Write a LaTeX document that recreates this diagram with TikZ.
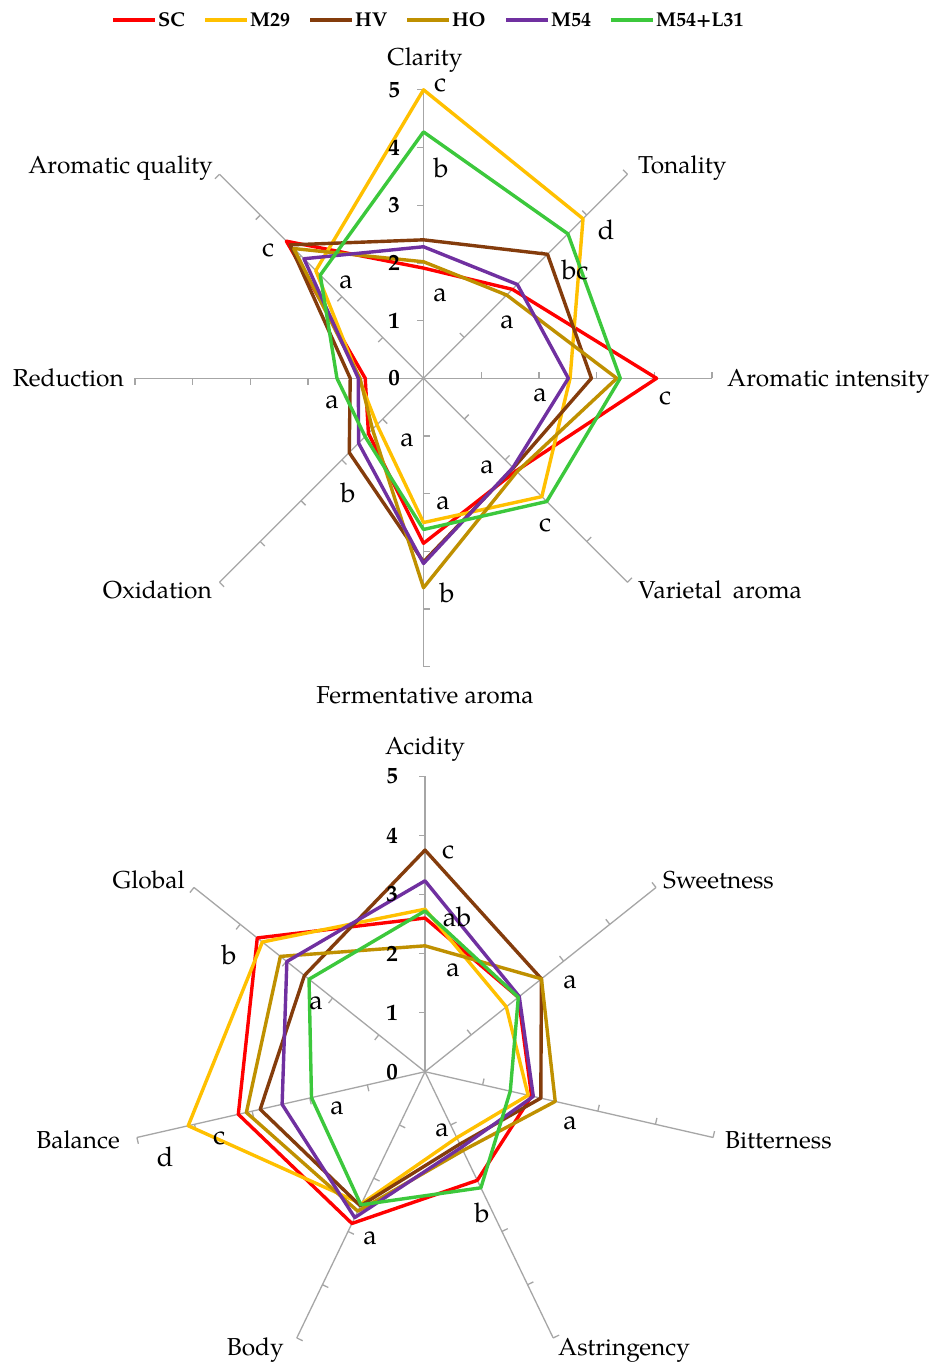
\documentclass[tikz,border=0pt]{standalone}
\usepackage{fontspec}
\setmainfont{TeX Gyre Pagella}[Numbers=Lining]
\definecolor{cSC}{HTML}{FF0000}
\definecolor{cMA}{HTML}{FFC000}
\definecolor{cHV}{HTML}{843C0C}
\definecolor{cHO}{HTML}{BF9000}
\definecolor{cMB}{HTML}{7030A0}
\definecolor{cMC}{HTML}{3CC83C}
\definecolor{axgray}{HTML}{A6A6A6}
\begin{document}
\begin{tikzpicture}[x=1pt,y=-1pt,
  axisline/.style={draw=axgray,line width=1.3pt},
  series/.style={line width=3.4pt,line join=round},
  axlabel/.style={font=\fontsize{24.5}{28}\selectfont,inner sep=0pt},
  sig/.style={font=\fontsize{27}{30}\selectfont,inner sep=0pt},
  ticklab/.style={font=\bfseries\fontsize{23}{25}\selectfont,inner sep=0pt},
  legtext/.style={font=\fontsize{20}{22}\selectfont\bfseries,inner sep=0pt,anchor=west},
  legline/.style={line width=4pt}]
\useasboundingbox (0,0) rectangle (936,1362);
\fill[white] (0,0) rectangle (936,1362);

% ---------- legend ----------
\draw[legline,cSC] (113,20) -- (155,20);
\node[legtext] (lSC) at (158,20) {SC};
\draw[legline,cMA] (205,20) -- (247,20);
\node[legtext] (lMA) at (250,20) {M29};
\draw[legline,cHV] (310,20) -- (352,20);
\node[legtext] (lHV) at (355,20) {HV};
\draw[legline,cHO] (407,20) -- (449,20);
\node[legtext] (lHO) at (452,20) {HO};
\draw[legline,cMB] (506,20) -- (548,20);
\node[legtext] (lMB) at (551,20) {M54};
\draw[legline,cMC] (611,20) -- (653,20);
\node[legtext] (lMC) at (656,20) {M54+L31};

% ---------- top radar ----------
\begin{scope}[shift={(423.5,378.3)},x=57.7pt,y=57.7pt]
  \foreach \a in {90,45,0,-45,-90,-135,180,135}{
    \pgfmathsetmacro\b{\a+90}
    \draw[axisline] (0,0) -- (\a:5);
    \foreach \k in {1,...,5}{\draw[axisline] (\a:\k) -- ++(\b:0.11);}
  }
  \draw[series,cSC] (90:1.91) -- (45:2.18) -- (0:4.04) -- (-45:2.27) -- (-90:2.86) -- (-135:1.35) -- (180:1.01) -- (135:3.36) -- cycle;
  \draw[series,cMA] (90:5.0) -- (45:3.91) -- (0:2.54) -- (-45:2.90) -- (-90:2.50) -- (-135:1.14) -- (180:1.12) -- (135:2.64) -- cycle;
  \draw[series,cHV] (90:2.40) -- (45:3.04) -- (0:2.91) -- (-45:2.20) -- (-90:3.18) -- (-135:1.82) -- (180:1.27) -- (135:3.27) -- cycle;
  \draw[series,cHO] (90:2.02) -- (45:2.04) -- (0:3.35) -- (-45:2.29) -- (-90:3.63) -- (-135:1.25) -- (180:1.10) -- (135:3.18) -- cycle;
  \draw[series,cMB] (90:2.28) -- (45:2.30) -- (0:2.51) -- (-45:2.19) -- (-90:3.21) -- (-135:1.59) -- (180:1.13) -- (135:2.93) -- cycle;
  \draw[series,cMC] (90:4.27) -- (45:3.54) -- (0:3.41) -- (-45:3.02) -- (-90:2.62) -- (-135:1.43) -- (180:1.50) -- (135:2.53) -- cycle;
\end{scope}

% tick numbers top
\node[ticklab] (t0) at (394,378) {0};
\node[ticklab] (t1) at (394,320.6) {1};
\node[ticklab] (t2) at (394,262.9) {2};
\node[ticklab] (t3) at (394,205.2) {3};
\node[ticklab] (t4) at (394,147.5) {4};
\node[ticklab] (t5) at (394,89.8) {5};

% axis labels top
\node[axlabel,anchor=base] (clar) at (425,66) {Clarity};
\node[axlabel,anchor=base west] (tona) at (638,173) {Tonality};
\node[axlabel,anchor=base west] (aint) at (727,386) {Aromatic intensity};
\node[axlabel,anchor=base west] (vari) at (638,598) {Varietal\hspace{5pt} aroma};
\node[axlabel,anchor=base] (ferm) at (425,703) {Fermentative aroma};
\node[axlabel,anchor=base east] (oxid) at (212,598) {Oxidation};
\node[axlabel,anchor=base east] (redu) at (124,386) {Reduction};
\node[axlabel,anchor=base east] (aqua) at (213,173) {Aromatic quality};

% significance letters top
\node[sig] (s1) at (440,85) {c};
\node[sig] (s2) at (441,168) {b};
\node[sig] (s3) at (606,230) {d};
\node[sig] (s4) at (575,270) {bc};
\node[sig] (s5) at (440,295) {a};
\node[sig] (s6) at (507,322) {a};
\node[sig] (s7) at (268,250) {c};
\node[sig] (s8) at (346,282) {a};
\node[sig] (s9) at (540,395) {a};
\node[sig] (s10) at (665,398) {c};
\node[sig] (s11) at (332,402) {a};
\node[sig] (s12) at (407,440) {a};
\node[sig] (s13) at (487,467) {a};
\node[sig] (s14) at (348,493) {b};
\node[sig] (s15) at (443,503) {a};
\node[sig] (s16) at (545,525) {c};
\node[sig] (s17) at (447,593) {b};

% ---------- bottom radar ----------
\begin{scope}[shift={(425,1071.7)},x=59.1pt,y=59.1pt]
  \foreach \a in {90,38.5714,-12.8571,-64.2857,-115.7143,-167.1429,141.4286}{
    \pgfmathsetmacro\b{\a+90}
    \draw[axisline] (0,0) -- (\a:5);
    \foreach \k in {1,...,5}{\draw[axisline] (\a:\k) -- ++(\b:0.11);}
  }
  \draw[series,cSC] (90:2.60) -- (38.5714:2.02) -- (-12.8571:1.85) -- (-64.2857:2.04) -- (-115.7143:2.85) -- (-167.1429:3.24) -- (141.4286:3.63) -- cycle;
  \draw[series,cMA] (90:2.75) -- (38.5714:1.76) -- (-12.8571:1.79) -- (-64.2857:1.24) -- (-115.7143:2.48) -- (-167.1429:4.11) -- (141.4286:3.52) -- cycle;
  \draw[series,cHV] (90:3.75) -- (38.5714:2.52) -- (-12.8571:2.01) -- (-64.2857:1.36) -- (-115.7143:2.52) -- (-167.1429:2.86) -- (141.4286:2.61) -- cycle;
  \draw[series,cHO] (90:2.13) -- (38.5714:2.52) -- (-12.8571:2.26) -- (-64.2857:1.48) -- (-115.7143:2.62) -- (-167.1429:3.10) -- (141.4286:3.13) -- cycle;
  \draw[series,cMB] (90:3.23) -- (38.5714:2.04) -- (-12.8571:1.88) -- (-64.2857:1.42) -- (-115.7143:2.74) -- (-167.1429:2.48) -- (141.4286:2.99) -- cycle;
  \draw[series,cMC] (90:2.72) -- (38.5714:2.02) -- (-12.8571:1.48) -- (-64.2857:2.18) -- (-115.7143:2.50) -- (-167.1429:1.97) -- (141.4286:2.51) -- cycle;
\end{scope}

% tick numbers bottom
\node[ticklab] (b0) at (392,1071.7) {0};
\node[ticklab] (b1) at (392,1012.6) {1};
\node[ticklab] (b2) at (392,953.5) {2};
\node[ticklab] (b3) at (392,894.4) {3};
\node[ticklab] (b4) at (392,835.3) {4};
\node[ticklab] (b5) at (392,776.2) {5};

% axis labels bottom
\node[axlabel,anchor=base] (acid) at (425,754) {Acidity};
\node[axlabel,anchor=base west] (swee) at (663,888) {Sweetness};
\node[axlabel,anchor=base west] (bitt) at (725,1148) {Bitterness};
\node[axlabel,anchor=base west] (astr) at (558,1355) {Astringency};
\node[axlabel,anchor=base east] (body) at (284,1355) {Body};
\node[axlabel,anchor=base east] (bala) at (120,1148) {Balance};
\node[axlabel,anchor=base east] (glob) at (185,888) {Global};

% significance letters bottom
\node[sig] (u1) at (448,852) {c};
\node[sig] (u2) at (457,917) {ab};
\node[sig] (u3) at (453,970) {a};
\node[sig] (u4) at (570,982) {a};
\node[sig] (u5) at (229,955) {b};
\node[sig] (u6) at (316,1003) {a};
\node[sig] (u7) at (337,1108) {a};
\node[sig] (u8) at (219,1138) {c};
\node[sig] (u9) at (165,1157) {d};
\node[sig] (u10) at (442,1130) {a};
\node[sig] (u11) at (570,1123) {a};
\node[sig] (u12) at (482,1213) {b};
\node[sig] (u13) at (370,1238) {a};
\end{tikzpicture}
\end{document}
